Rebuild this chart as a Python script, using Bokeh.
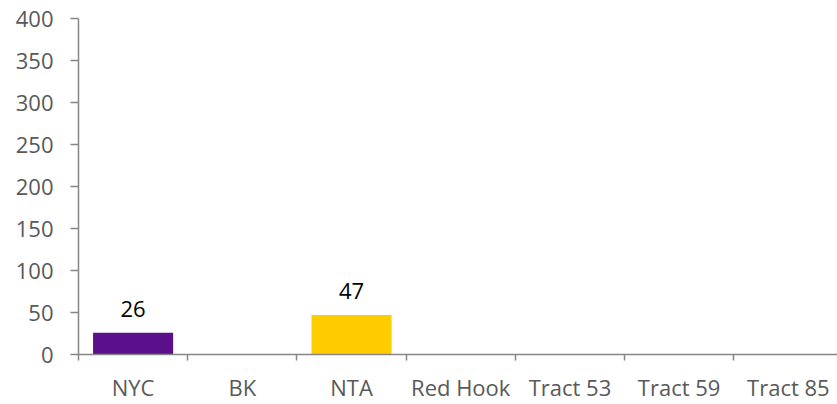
from bokeh.plotting import figure
from bokeh.models import Range1d, FixedTicker, ColumnDataSource
from bokeh.core.properties import value
from bokeh.embed import file_html
from bokeh.resources import INLINE

categories = ["NYC", "BK", "NTA", "Red Hook", "Tract 53", "Tract 59", "Tract 85"]
values = [26, None, 47, None, None, None, None]
colors = ["#5B0F8A", None, "#FFCC00", None, None, None, None]
y_ticks = [0, 50, 100, 150, 200, 250, 300, 350, 400]

xs, ys, cs, labels = [], [], [], []
for i, (v, c) in enumerate(zip(values, colors)):
    if v is not None:
        xs.append(i + 0.5)
        ys.append(v)
        cs.append(c)
        labels.append(str(v))
src = ColumnDataSource(dict(x=xs, top=ys, color=cs, label=labels))

FONT = "Open Sans"
GRAY = "#595959"
AXIS = "#868686"

p = figure(width=837, height=404, output_backend="svg", toolbar_location=None,
           x_range=Range1d(0, 6.95), y_range=Range1d(0, 400),
           min_border_left=78, min_border_right=0, min_border_top=18, min_border_bottom=49)
p.outline_line_color = None
p.xgrid.grid_line_color = None
p.ygrid.grid_line_color = None

p.vbar(x="x", top="top", width=0.733, color="color", source=src, line_color=None)
p.text(x="x", y="top", text="label", source=src, text_align="center",
       text_baseline="alphabetic", y_offset=-24, text_font=value(FONT),
       text_font_size="22px", text_color="#000000")

# y axis
p.yaxis.ticker = FixedTicker(ticks=y_ticks)
p.yaxis.axis_line_color = AXIS
p.yaxis.axis_line_width = 1.5
p.yaxis.major_tick_line_color = AXIS
p.yaxis.major_tick_line_width = 1.5
p.yaxis.major_tick_out = 8
p.yaxis.major_tick_in = 0
p.yaxis.minor_tick_line_color = None
p.yaxis.major_label_text_font = FONT
p.yaxis.major_label_text_font_size = "22px"
p.yaxis.major_label_text_color = GRAY
p.yaxis.major_label_standoff = 17

# x axis: labels at category centres, tick marks at boundaries
centers = [i + 0.5 for i in range(len(categories))]
p.xaxis.ticker = FixedTicker(ticks=centers, minor_ticks=list(range(len(categories))))
p.xaxis.major_label_overrides = {c: name for c, name in zip(centers, categories)}
p.xaxis.axis_line_color = AXIS
p.xaxis.axis_line_width = 1.5
p.xaxis.major_tick_line_color = None
p.xaxis.minor_tick_line_color = AXIS
p.xaxis.minor_tick_line_width = 1.5
p.xaxis.minor_tick_out = 6
p.xaxis.minor_tick_in = 0
p.xaxis.major_label_text_font = FONT
p.xaxis.major_label_text_font_size = "22px"
p.xaxis.major_label_text_color = GRAY
p.xaxis.major_label_standoff = 11

open("out.html", "w").write(file_html(p, INLINE))
